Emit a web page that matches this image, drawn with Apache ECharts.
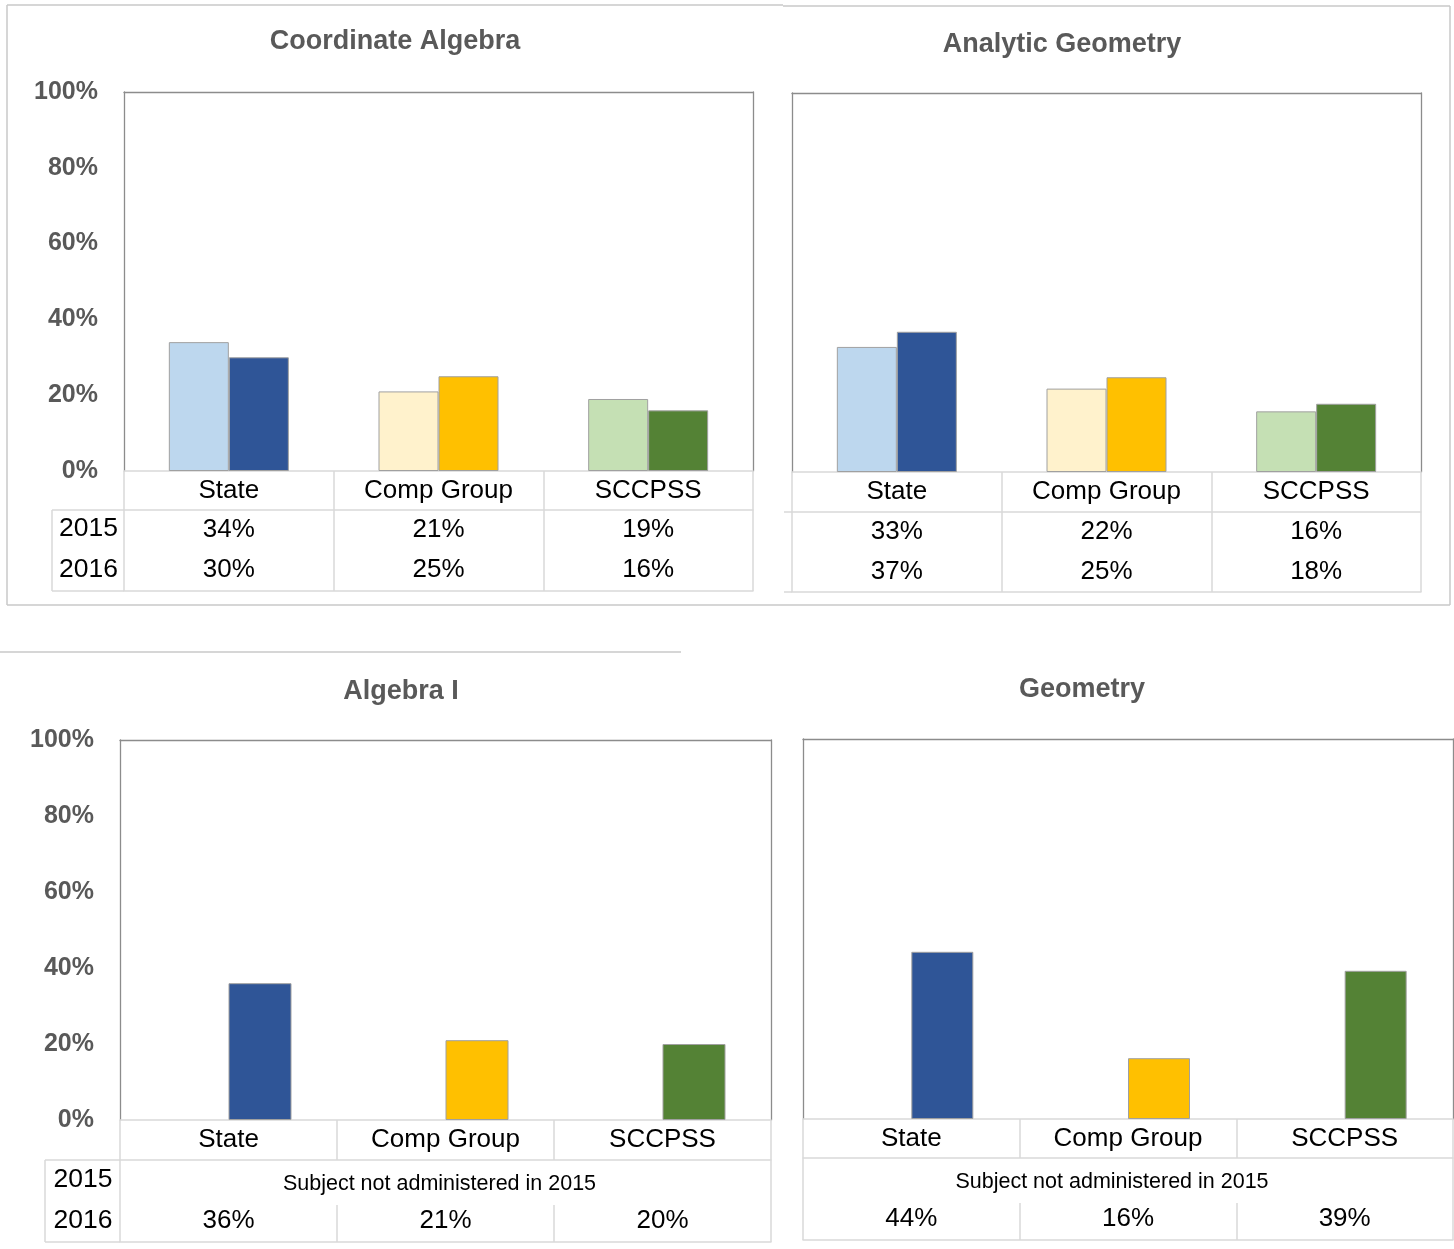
<!DOCTYPE html>
<html>
<head>
<meta charset="utf-8">
<script src="https://cdn.jsdelivr.net/npm/echarts@6/dist/echarts.min.js"></script>
<style>
html,body{margin:0;padding:0;background:#fff;}
#chart{width:1454px;height:1249px;}
</style>
</head>
<body>
<div id="chart"></div>
<script>
// ---------- data ----------
const categories = ['State', 'Comp Group', 'SCCPSS'];
const rowLabels = ['2015', '2016'];
const titles = ['Coordinate Algebra', 'Analytic Geometry', 'Algebra I', 'Geometry'];
const note2015 = ['Subject not administered in 2015'];
const coordAlgebra2015 = [34, 21, 19];
const coordAlgebra2016 = [30, 25, 16];
const analyticGeometry2015 = [33, 22, 16];
const analyticGeometry2016 = [37, 25, 18];
const algebraI2015 = [null, null, null];
const algebraI2016 = [36, 21, 20];
const geometry2015 = [null, null, null];
const geometry2016 = [44, 16, 39];
const yMin = 0, yMax = 100, yStep = 20;

// ---------- styles ----------
const FONT = '"Liberation Sans", Arial, sans-serif';
const LIGHT = '#d9d9d9';
const DARK = '#8c8c8c';
const FRAME = '#c8c8c8';
const colors2015 = ['#BDD7EE', '#FFF2CC', '#C5E0B4'];
const colors2016 = ['#2F5597', '#FFC000', '#548235'];
const pct = v => (v == null ? '' : v + '%');

const panels = [
  { title: titles[0], tx: 395, ty: 42, grid: {left: 124, top: 92, width: 629, height: 379},
    d15: coordAlgebra2015, d16: coordAlgebra2016, showY: true, note: false, bw: 60,
    rows: [39, 79, 120], rowLabelBox: {x1: 52, x2: 124} },
  { title: titles[1], tx: 1062, ty: 45, grid: {left: 792, top: 93, width: 629, height: 379},
    d15: analyticGeometry2015, d16: analyticGeometry2016, showY: false, note: false, bw: 60,
    rows: [40, 80, 120], stub: {x1: 784, x2: 792} },
  { title: titles[2], tx: 401, ty: 692, grid: {left: 120, top: 740, width: 651, height: 380},
    d15: algebraI2015, d16: algebraI2016, showY: true, note: true, bw: 63, notePad: 12,
    rows: [40, 85, 122], rowLabelBox: {x1: 45, x2: 120} },
  { title: titles[3], tx: 1082, ty: 690, grid: {left: 803, top: 739, width: 650, height: 380},
    d15: geometry2015, d16: geometry2016, showY: false, note: true, bw: 62, notePad: 32,
    rows: [39, 84, 121] }
];

const grids = [], xAxes = [], yAxes = [], series = [], graphics = [];

const hidden = {show: false};
const hiddenLine = {show: false, onZero: false};
function lbl(extra) {
  return Object.assign({interval: 0, fontSize: 26, color: '#000', fontFamily: FONT, verticalAlign: 'middle'}, extra);
}
function line(color, width) {
  return {show: true, onZero: false, lineStyle: {color: color, width: width}};
}

panels.forEach((p, gi) => {
  grids.push(Object.assign({containLabel: false}, p.grid));
  const g = p.grid;
  const bottom = g.top + g.height;
  const hdrH = p.rows[0];

  // left y axis (with labels) + right y axis (border)
  const yIdx = yAxes.length;
  yAxes.push({
    type: 'value', gridIndex: gi, position: 'left', min: yMin, max: yMax, interval: yStep,
    axisLine: line(DARK, 1.3),
    axisTick: hidden, splitLine: hidden,
    axisLabel: {show: p.showY, formatter: '{value}%', fontSize: 25, fontWeight: 'bold',
      color: '#595959', fontFamily: FONT, margin: 26}
  });
  yAxes.push({
    type: 'value', gridIndex: gi, position: 'right', min: yMin, max: yMax, interval: yStep,
    axisLine: line(DARK, 1.3),
    axisTick: hidden, splitLine: hidden, axisLabel: hidden
  });
  // top border
  xAxes.push({
    type: 'category', gridIndex: gi, position: 'top', data: categories,
    axisLine: line(DARK, 1.3),
    axisTick: hidden, axisLabel: hidden
  });
  // header axis with category labels
  const xIdx = xAxes.length;
  xAxes.push({
    type: 'category', gridIndex: gi, position: 'bottom', data: categories,
    axisLine: line(LIGHT, 1.5),
    axisTick: {show: true, interval: 0, length: p.note ? hdrH : p.rows[2], lineStyle: {color: LIGHT, width: 1.5}},
    axisLabel: lbl({margin: Math.round(hdrH / 2)})
  });
  if (!p.note) {
    xAxes.push({
      type: 'category', gridIndex: gi, position: 'bottom', offset: p.rows[0], data: p.d15.map(pct),
      axisLine: line(LIGHT, 1.5), axisTick: hidden,
      axisLabel: lbl({margin: 20})
    });
    xAxes.push({
      type: 'category', gridIndex: gi, position: 'bottom', offset: p.rows[1], data: p.d16.map(pct),
      axisLine: hiddenLine, axisTick: hidden, axisLabel: lbl({margin: 20})
    });
  } else {
    xAxes.push({
      type: 'category', gridIndex: gi, position: 'bottom', offset: p.rows[0], data: note2015,
      axisLine: line(LIGHT, 1.5),
      axisTick: {show: true, interval: 0, length: p.rows[1] - p.rows[0], lineStyle: {color: LIGHT, width: 1.5}},
      axisLabel: lbl({margin: 24, fontSize: 21.5, padding: [0, p.notePad, 0, 0]})
    });
    xAxes.push({
      type: 'category', gridIndex: gi, position: 'bottom', offset: p.rows[1], data: p.d16.map(pct),
      axisLine: hiddenLine,
      axisTick: {show: true, interval: 0, length: p.rows[2] - p.rows[1], lineStyle: {color: LIGHT, width: 1.5}},
      axisLabel: lbl({margin: 16})
    });
  }
  xAxes.push({
    type: 'category', gridIndex: gi, position: 'bottom', offset: p.rows[2], data: categories,
    axisLine: line(LIGHT, 1.5), axisTick: hidden, axisLabel: hidden
  });

  const barStyle = {borderColor: '#a0a0a0', borderWidth: 1};
  series.push({
    type: 'bar', name: rowLabels[0], xAxisIndex: xIdx, yAxisIndex: yIdx, barWidth: p.bw, barGap: '0%',
    itemStyle: barStyle,
    data: p.d15.map((v, i) => ({value: v, itemStyle: {color: colors2015[i]}}))
  });
  series.push({
    type: 'bar', name: rowLabels[1], xAxisIndex: xIdx, yAxisIndex: yIdx, barWidth: p.bw, barGap: '0%',
    itemStyle: barStyle,
    data: p.d16.map((v, i) => ({value: v, itemStyle: {color: colors2016[i]}}))
  });

  // title
  graphics.push({type: 'text', x: p.tx, y: p.ty, silent: true,
    style: {text: p.title, fill: '#595959', font: 'bold 27px ' + FONT, align: 'center', verticalAlign: 'middle'}});

  // row labels column
  if (p.rowLabelBox) {
    const b = p.rowLabelBox;
    const yTop = bottom + p.rows[0], yBot = bottom + p.rows[2];
    const lineStyle = {stroke: LIGHT, lineWidth: 1.5};
    graphics.push({type: 'line', silent: true, shape: {x1: b.x1, y1: yTop, x2: b.x2, y2: yTop}, style: lineStyle});
    graphics.push({type: 'line', silent: true, shape: {x1: b.x1, y1: yBot, x2: b.x2, y2: yBot}, style: lineStyle});
    graphics.push({type: 'line', silent: true, shape: {x1: b.x1, y1: yTop, x2: b.x1, y2: yBot}, style: lineStyle});
    const cx = (b.x1 + b.x2) / 2 + 0.5;
    const r1 = p.note ? bottom + p.rows[0] + 20 : bottom + p.rows[0] + 19;
    const r2 = p.note ? bottom + p.rows[1] + 16 : bottom + p.rows[1] + 20;
    graphics.push({type: 'text', x: cx, y: r1, silent: true,
      style: {text: rowLabels[0], fill: '#000', font: '26.5px ' + FONT, align: 'center', verticalAlign: 'middle'}});
    graphics.push({type: 'text', x: cx, y: r2, silent: true,
      style: {text: rowLabels[1], fill: '#000', font: '26.5px ' + FONT, align: 'center', verticalAlign: 'middle'}});
  }
  if (p.stub) {
    const lineStyle = {stroke: LIGHT, lineWidth: 1.5};
    [p.rows[0], p.rows[2]].forEach(o => graphics.push({type: 'line', silent: true,
      shape: {x1: p.stub.x1, y1: bottom + o, x2: p.stub.x2, y2: bottom + o}, style: lineStyle}));
  }
});

// panel frames
const frameStyle = {stroke: FRAME, lineWidth: 1.5};
[[7, 5, 783, 5], [783, 6, 1450, 6], [7, 5, 7, 605], [7, 605, 1450, 605], [1450, 6, 1450, 605], [0, 652, 681, 652]]
  .forEach(s => graphics.push({type: 'line', silent: true, shape: {x1: s[0], y1: s[1], x2: s[2], y2: s[3]}, style: frameStyle}));

const chart = echarts.init(document.getElementById('chart'), null, {renderer: 'canvas'});
chart.setOption({
  backgroundColor: '#fff',
  animation: false,
  grid: grids,
  xAxis: xAxes,
  yAxis: yAxes,
  series: series,
  graphic: graphics
});
</script>
</body>
</html>
